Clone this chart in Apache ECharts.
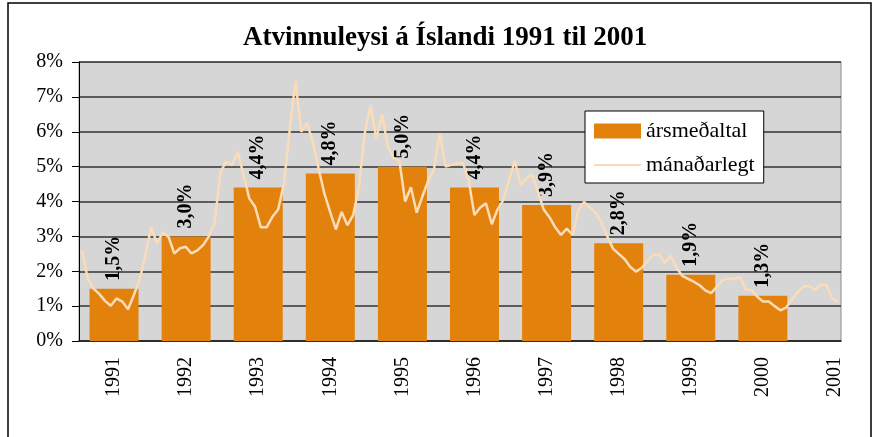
<!DOCTYPE html>
<html>
<head>
<meta charset="utf-8">
<script src="https://cdn.jsdelivr.net/npm/echarts@6/dist/echarts.min.js"></script>
<style>
  html, body { margin: 0; padding: 0; background: #fff; }
  #chart { width: 877px; height: 437px; }
</style>
</head>
<body>
<div id="chart"></div>
<script>
// ár og ársmeðaltal atvinnuleysis (%)
const years = ['1991', '1992', '1993', '1994', '1995', '1996', '1997', '1998', '1999', '2000', '2001'];
const yearlyAvg = [1.5, 3.0, 4.4, 4.8, 5.0, 4.4, 3.9, 2.8, 1.9, 1.3, null];

// mánaðarlegar tölur, lesnar af myndinni
const m1991 = [2.6, 1.8, 1.5, 1.35, 1.15, 1.01, 1.22, 1.13, 0.91, 1.32, 1.75, 2.46];
const m1992 = [3.27, 2.8, 3.1, 2.99, 2.51, 2.66, 2.7, 2.51, 2.6, 2.75, 3.0, 3.4];
const m1993 = [4.85, 5.14, 5.04, 5.42, 4.76, 4.09, 3.85, 3.26, 3.26, 3.56, 3.77, 4.52];
const m1994 = [6.05, 7.46, 6.0, 6.25, 5.71, 4.95, 4.23, 3.7, 3.2, 3.7, 3.32, 3.61];
const m1995 = [4.42, 5.96, 6.76, 5.79, 6.5, 5.57, 5.24, 5.17, 4.0, 4.41, 3.68, 4.15];
const m1996 = [4.6, 4.93, 5.96, 5.0, 5.05, 5.09, 5.11, 4.61, 3.61, 3.83, 3.95, 3.35];
const m1997 = [3.77, 4.04, 4.61, 5.17, 4.47, 4.66, 4.78, 4.28, 3.77, 3.55, 3.26, 3.04];
const m1998 = [3.22, 3.04, 3.75, 3.99, 3.82, 3.68, 3.4, 3.0, 2.65, 2.5, 2.35, 2.12];
const m1999 = [1.99, 2.1, 2.3, 2.48, 2.48, 2.24, 2.44, 2.1, 1.87, 1.78, 1.7, 1.6];
const m2000 = [1.45, 1.37, 1.56, 1.75, 1.8, 1.77, 1.84, 1.48, 1.46, 1.27, 1.13, 1.13];
const m2001 = [1.0, 0.88, 0.96, 1.18, 1.4, 1.56, 1.58, 1.46, 1.62, 1.6, 1.22, 1.13];

const yTicks = [0, 1, 2, 3, 4, 5, 6, 7, 8];

const monthly = [].concat(m1991, m1992, m1993, m1994, m1995, m1996, m1997, m1998, m1999, m2000, m2001);
const monthCats = monthly.map((v, i) => String(i));

const serif = "'Liberation Serif', 'Times New Roman', serif";
const chart = echarts.init(document.getElementById('chart'));

// síðasti merkimiðinn (2001) situr aðeins vinstra megin við miðju flokksins
const yearCats = years.map((y, i) => i === years.length - 1
  ? { value: y, textStyle: { padding: [0, 0, 10, 0] } }
  : y);

chart.setOption({
  animation: false,
  backgroundColor: '#fff',
  title: {
    text: 'Atvinnuleysi á Íslandi 1991 til 2001',
    left: 243,
    top: 25,
    padding: 0,
    textStyle: { fontFamily: serif, fontSize: 27, fontWeight: 'bold', color: '#000' }
  },
  graphic: [{
    type: 'rect',
    shape: { x: 8, y: 3, width: 863, height: 450 },
    style: { fill: 'none', stroke: '#000', lineWidth: 1.5 },
    silent: true
  }],
  legend: {
    orient: 'vertical',
    left: 585,
    top: 111,
    padding: [9, 9, 7, 8],
    itemGap: 12,
    itemWidth: 47,
    itemHeight: 15,
    backgroundColor: '#fff',
    borderColor: '#000',
    borderWidth: 1,
    textStyle: { fontFamily: serif, fontSize: 22, color: '#000', lineHeight: 22 },
    data: [
      { name: 'ársmeðaltal', icon: 'rect' },
      { name: 'mánaðarlegt', itemStyle: { opacity: 0 } }
    ]
  },
  grid: [{
    // teiknisvæði og mánaðarlínan
    left: 79, right: 36, top: 62, bottom: 96,
    show: true,
    backgroundColor: '#d6d6d6',
    borderColor: '#8a8a8a',
    borderWidth: 1
  }, {
    // súlurnar og ártölin
    left: 78, width: 793, top: 62, bottom: 96
  }],
  xAxis: [{
    type: 'category',
    gridIndex: 0,
    data: monthCats,
    boundaryGap: true,
    axisLine: { lineStyle: { color: '#222', width: 1.5 } },
    axisTick: { show: false },
    axisLabel: { show: false }
  }, {
    type: 'category',
    gridIndex: 1,
    data: yearCats,
    boundaryGap: true,
    axisLine: { show: false },
    axisTick: { show: false },
    axisLabel: { rotate: 90, margin: 16, fontFamily: serif, fontSize: 20, color: '#000' }
  }],
  yAxis: [{
    type: 'value',
    gridIndex: 0,
    min: yTicks[0],
    max: yTicks[yTicks.length - 1],
    interval: 1,
    axisLine: { show: true, lineStyle: { color: '#000', width: 1 } },
    axisTick: { show: true, length: 7, lineStyle: { color: '#000' } },
    axisLabel: { margin: 16, fontFamily: serif, fontSize: 20, color: '#000', formatter: '{value}%' },
    splitLine: { lineStyle: { color: '#333', width: 1.5 } }
  }, {
    type: 'value',
    gridIndex: 1,
    min: yTicks[0],
    max: yTicks[yTicks.length - 1],
    interval: 1,
    show: false,
    splitLine: { show: false }
  }],
  series: [{
    name: 'ársmeðaltal',
    type: 'bar',
    xAxisIndex: 1,
    yAxisIndex: 1,
    data: yearlyAvg,
    barWidth: 49,
    itemStyle: { color: '#e2820c' },
    label: {
      show: true,
      position: 'top',
      rotate: 90,
      align: 'left',
      verticalAlign: 'middle',
      distance: 8,
      fontFamily: serif,
      fontSize: 20,
      fontWeight: 'bold',
      color: '#000',
      formatter: p => p.value == null ? '' : p.value.toFixed(1).replace('.', ',') + '%'
    }
  }, {
    name: 'mánaðarlegt',
    type: 'line',
    xAxisIndex: 0,
    yAxisIndex: 0,
    data: monthly,
    symbol: 'none',
    lineStyle: { color: '#fbdcb9', width: 2.5 },
    itemStyle: { color: '#fbdcb9' }
  }]
});
</script>
</body>
</html>
